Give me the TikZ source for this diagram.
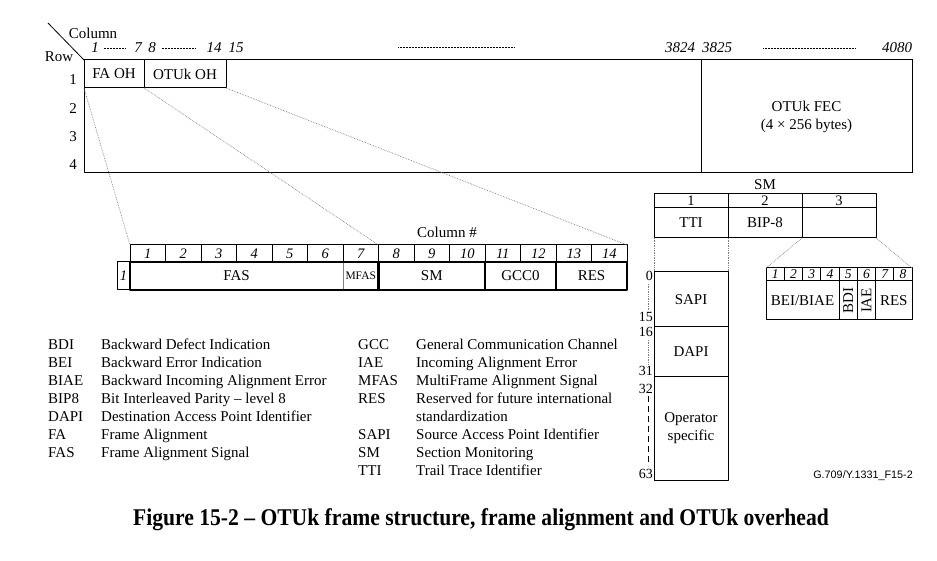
\documentclass[tikz,border=0pt]{standalone}
\usepackage{fontspec}
\setmainfont{Liberation Serif}
\newfontfamily\idfont{Liberation Sans}
\newfontfamily\capfont[FakeStretch=0.9]{Liberation Serif}
\usetikzlibrary{positioning}

\tikzset{
  lbl/.style={font=\fontsize{15}{18}\selectfont, inner sep=0pt},
  num/.style={font=\fontsize{14.5}{17}\selectfont\itshape, inner sep=0pt},
  cell/.style={draw, rectangle, line width=1pt, inner sep=0pt, outer sep=0pt,
    anchor=north west, font=\fontsize{15}{18}\selectfont},
  zoomline/.style={gray, densely dotted, line width=0.7pt},
}

\begin{document}
\begin{tikzpicture}[x=1pt, y=-1pt, line join=round]
  \useasboundingbox (0,0) rectangle (937,561);

  % OTUk frame
  \node[cell, minimum width=828, minimum height=113] (frame) at (84,60) {};
  \node[cell, minimum width=60, minimum height=28] (faoh) at (84,60) {FA OH};
  \node[cell, minimum width=82, minimum height=28] (otukoh) at (144,60) {OTUk OH};
  \node[cell, minimum width=211, minimum height=113, align=center] (fec) at (701,60)
    {OTUk FEC\\(4 × 256 bytes)};
  \coordinate (corner) at (48,23);
  \draw[line width=0.8pt] (corner) -- (frame.north west);
  \node[lbl] (collbl) at (93,33) {Column};
  \node[lbl] (rowlbl) at (59,57) {Row};
  \foreach \r in {1,...,4}
    \node[lbl] (row\r) at (73,{80+28.3*(\r-1)}) {\r};
  \foreach \n/\x in {1/95, 7/138, 8/152, 14/214, 15/236, 3824/680, 3825/717, 4080/897}
    \node[num, font=\fontsize{15}{18}\selectfont\itshape] (col\n) at (\x,48) {\n};
  \draw[densely dotted, line width=0.5pt] (col1.east) ++(5,0) -- ([xshift=-9pt]col7.west);
  \draw[densely dotted, line width=0.5pt] (col8.east) ++(6,0) -- ([xshift=-11pt]col14.west);
  \draw[densely dotted, line width=0.5pt] (398,47) -- (515,47);
  \draw[densely dotted, line width=0.5pt] (col3825.east) ++(31,0) -- ([xshift=-27pt]col4080.west);

  % frame alignment overhead
  \node[lbl] (colhash) at (447,232) {Column \#};
  \foreach \c in {1,...,14}
    \node[cell, num, minimum width=35.5, minimum height=17] (fasn\c)
      at ({130+35.5*(\c-1)},245) {\c};
  \node[cell, num, minimum width=13, minimum height=28] (fasrow) at (117,262) {1};
  \node[cell, draw=none, minimum width=213, minimum height=28] (fas) at (130,262) {FAS};
  \node[cell, draw=none, minimum width=35.5, minimum height=28,
    font=\fontsize{11.5}{12}\selectfont] (mfas) at (343,262) {MFAS};
  \node[cell, draw=none, minimum width=106.5, minimum height=28] (sm) at (378.5,262) {SM};
  \node[cell, draw=none, minimum width=71, minimum height=28] (gcc) at (485,262) {GCC0};
  \node[cell, draw=none, minimum width=71, minimum height=28] (res) at (556,262) {RES};
  \draw[gray, line width=1pt] (mfas.north west) -- (mfas.south west);
  \foreach \n in {sm,gcc,res}
    \draw[line width=2.2pt] (\n.north west) -- (\n.south west);
  \draw[line width=2.2pt] (fas.north west) rectangle (res.south east);
  \draw[zoomline] (faoh.south west) -- (fasn1.north west);
  \draw[zoomline] (faoh.south east) -- (fasn7.north east);
  \draw[zoomline] (otukoh.south east) -- (fasn14.north east);

  % SM overhead
  \node[lbl] (smtitle) at (765,185) {SM};
  \foreach \c in {1,2,3}
    \node[cell, minimum width=74, minimum height=14, font=\fontsize{14.5}{17}\selectfont]
      (smn\c) at ({654+74*(\c-1)},194) {\c};
  \node[cell, minimum width=74, minimum height=30] (smd1) at (654,208) {TTI};
  \node[cell, minimum width=74, minimum height=30] (smd2) at (728,208) {BIP-8};
  \node[cell, minimum width=74, minimum height=30] (smd3) at (802,208) {};
  \node[cell, minimum width=74, minimum height=55] (sapi) at (654,272) {SAPI};
  \node[cell, minimum width=74, minimum height=49] (dapi) at (654,327) {DAPI};
  \node[cell, minimum width=74, minimum height=104, align=center] (oper) at (654,376)
    {Operator\\specific};
  \draw[zoomline] (smd1.south west) -- (sapi.north west);
  \draw[zoomline] (smd1.south east) -- (sapi.north east);
  \foreach \n/\y in {0/276, 15/317, 16/332, 31/371, 32/389, 63/474}
    \node[lbl, anchor=east, font=\fontsize{14}{16}\selectfont] (byte\n) at (653,\y) {\n};
  \draw[gray, densely dotted, line width=0.7pt] (648,284) -- (648,310);
  \draw[gray, densely dotted, line width=0.7pt] (648,340) -- (648,364);
  \draw[dash pattern=on 6pt off 4pt, line width=1pt] (648,396) -- (648,466);

  % SM byte 3
  \foreach \c in {1,...,8}
    \node[cell, num, minimum width=18.25, minimum height=13, font=\fontsize{13.5}{15}\selectfont\itshape]
      (bein\c) at ({766+18.25*(\c-1)},268) {\c};
  \node[cell, minimum width=73, minimum height=39] (bei) at (766,281) {BEI/BIAE};
  \node[cell, minimum width=18.25, minimum height=39] (bdi) at (839,281) {};
  \node[cell, minimum width=18.25, minimum height=39] (iae) at (857.25,281) {};
  \node[cell, minimum width=36.5, minimum height=39] (bres) at (875.5,281) {RES};
  \node[lbl, rotate=90] (bditxt) at (bdi.center) {BDI};
  \node[lbl, rotate=90] (iaetxt) at (iae.center) {IAE};
  \draw[zoomline] (smd3.south west) -- (bein1.north west);
  \draw[zoomline] (smd3.south east) -- (bein8.north east);

  % abbreviations
  \foreach \ab/\ds [count=\i] in {BDI/Backward Defect Indication,
      BEI/Backward Error Indication, BIAE/Backward Incoming Alignment Error,
      BIP8/Bit Interleaved Parity – level 8, DAPI/Destination Access Point Identifier,
      FA/Frame Alignment, FAS/Frame Alignment Signal} {
    \node[lbl, anchor=base west] (abl\i) at (48,{332+17.9*\i}) {\ab};
    \node[lbl, anchor=base west] (dsl\i) at (101,{332+17.9*\i}) {\ds};
  }
  \foreach \i/\ab/\ds in {1/GCC/General Communication Channel,
      2/IAE/Incoming Alignment Error, 3/MFAS/MultiFrame Alignment Signal,
      4/RES/Reserved for future international, 6/SAPI/Source Access Point Identifier,
      7/SM/Section Monitoring, 8/TTI/Trail Trace Identifier} {
    \node[lbl, anchor=base west] (abr\i) at (358,{332+17.9*\i}) {\ab};
    \node[lbl, anchor=base west] (dsr\i) at (416,{332+17.9*\i}) {\ds};
  }
  \node[lbl, anchor=base west] (dsr5) at (416,{332+17.9*5}) {standardization};

  \node[anchor=east, inner sep=0pt, font=\idfont\fontsize{10.8}{12}\selectfont] (figid)
    at (913,476) {G.709/Y.1331\_F15-2};
  \node[inner sep=0pt, font=\capfont\bfseries\fontsize{24}{26}\selectfont] (caption)
    at (481,520) {Figure 15-2 – OTUk frame structure, frame alignment and OTUk overhead};
\end{tikzpicture}
\end{document}
